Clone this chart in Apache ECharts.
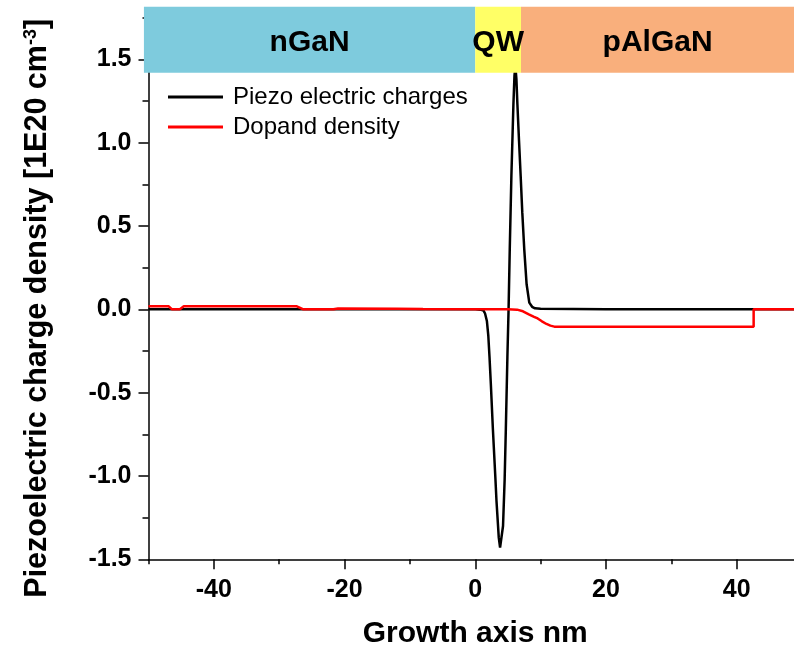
<!DOCTYPE html>
<html><head><meta charset="utf-8">
<script src="https://cdn.jsdelivr.net/npm/echarts@6/dist/echarts.min.js"></script>
<style>html,body{margin:0;padding:0;background:#fff}#c{width:794px;height:648px}</style>
</head><body><div id="c"></div>
<script>
// Piezo electric charges (black)
const piezoX = [-50, -20, -5, 0, 0.8, 1.27, 1.5, 1.78, 2.0, 2.18, 2.4, 2.7, 3.09, 3.25, 3.6, 3.8, 3.93, 4.08, 4.25, 4.5, 4.68, 4.92, 5.1, 5.28, 5.53, 5.84, 6.0, 6.14, 6.3, 6.45, 6.7, 6.95, 7.2, 7.5, 7.86, 8.27, 8.7, 9.14, 10, 20, 50];
const piezoY = [0, 0, 0, 0, -0.002, -0.008, -0.025, -0.07, -0.16, -0.285, -0.46, -0.72, -1.02, -1.15, -1.37, -1.43, -1.44, -1.42, -1.3, -1.02, -0.72, -0.285, 0, 0.36, 0.8, 1.23, 1.40, 1.46, 1.38, 1.23, 1.01, 0.8, 0.58, 0.36, 0.15, 0.04, 0.015, 0.006, 0.003, 0.001, 0];
// Dopand density (red)
const dopX = [-50, -46.9, -46.4, -45.2, -44.6, -27.3, -26.3, -21.7, -21.0, -12, -8, 0, 5, 6.4, 7.3, 8.2, 9.0, 9.55, 10.2, 10.9, 11.5, 12.1, 42.6, 42.6, 50];
const dopY = [0.018, 0.018, 0.0, 0.0, 0.018, 0.018, 0.0, 0.0, 0.005, 0.004, 0.002, 0.001, 0.001, -0.002, -0.012, -0.03, -0.045, -0.055, -0.072, -0.088, -0.098, -0.104, -0.104, 0, 0];

const xMajorTicks = [-40, -20, 0, 20, 40];
const xMinorTicks = [-50, -30, -10, 10, 30, 50];
const yMajorTicks = [-1.5, -1.0, -0.5, 0, 0.5, 1.0, 1.5];
const yMinorTicks = [-1.25, -0.75, -0.25, 0.25, 0.75, 1.25, 1.75];

const layerNames = ['nGaN', 'QW', 'pAlGaN'];
const layerStart = [-50.7, 0, 7];
const layerEnd = [0, 7, 48.8];
const layerColors = ['#7ECBDD', '#FFFF66', '#F9AF7C'];
const bandTop = 1.815, bandBottom = 1.42;

const FONT = '"Liberation Sans", Arial, sans-serif';
const axisLineStyle = { color: '#000', width: 1.5 };

const chart = echarts.init(document.getElementById('c'), null, { renderer: 'canvas' });
chart.setOption({
  animation: false,
  backgroundColor: '#fff',
  grid: { left: 148.5, right: -8, top: 9.3, bottom: 88.7, outerBoundsMode: 'none' },
  legend: {
    orient: 'vertical', left: 163, top: 80, itemWidth: 55, itemHeight: 3, itemGap: 6, icon: 'rect',
    textStyle: { fontSize: 24, fontFamily: FONT, color: '#000', lineHeight: 24, padding: [0, 0, 0, 5] },
    data: ['Piezo electric charges', 'Dopand density']
  },
  xAxis: [
    {
      type: 'value', min: -50, max: 50, position: 'bottom',
      axisLine: { show: true, onZero: false, lineStyle: axisLineStyle },
      axisTick: { show: true, customValues: xMajorTicks, length: 10, lineStyle: axisLineStyle },
      axisLabel: { customValues: xMajorTicks, fontSize: 25, fontWeight: 'bold', fontFamily: FONT, color: '#000', margin: 18 },
      splitLine: { show: false },
      name: 'Growth axis nm', nameLocation: 'middle', nameGap: 59,
      nameTextStyle: { fontSize: 30, fontWeight: 'bold', fontFamily: FONT, color: '#000' }
    },
    {
      type: 'value', min: -50, max: 50, position: 'bottom',
      axisLine: { show: false, onZero: false },
      axisTick: { show: true, customValues: xMinorTicks, length: 5, lineStyle: axisLineStyle },
      axisLabel: { show: false }, splitLine: { show: false }
    }
  ],
  yAxis: [
    {
      type: 'value', min: -1.5, max: 1.8, position: 'left',
      axisLine: { show: true, onZero: false, lineStyle: axisLineStyle },
      axisTick: { show: true, customValues: yMajorTicks, length: 10, lineStyle: axisLineStyle },
      axisLabel: { customValues: yMajorTicks, formatter: v => v.toFixed(1), fontSize: 25, fontWeight: 'bold', fontFamily: FONT, color: '#000', margin: 17 },
      splitLine: { show: false },
      name: 'Piezoelectric charge density [1E20 cm{sup|-3}]', nameLocation: 'middle', nameGap: 95, nameRotate: 90,
      nameTextStyle: {
        fontSize: 30.5, fontWeight: 'bold', fontFamily: FONT, color: '#000', padding: [0, 48, 0, 0],
        rich: { sup: { fontSize: 18, fontWeight: 'bold', fontFamily: FONT, color: '#000', verticalAlign: 'top' } }
      }
    },
    {
      type: 'value', min: -1.5, max: 1.8, position: 'left',
      axisLine: { show: false, onZero: false },
      axisTick: { show: true, customValues: yMinorTicks, length: 6, lineStyle: axisLineStyle },
      axisLabel: { show: false }, splitLine: { show: false }
    }
  ],
  series: [
    {
      name: 'Piezo electric charges', type: 'line', color: '#000', symbol: 'none', z: 2,
      lineStyle: { color: '#000', width: 2.5 },
      data: piezoX.map((x, i) => [x, piezoY[i]])
    },
    {
      name: 'Dopand density', type: 'line', color: '#FF0000', symbol: 'none', z: 3,
      lineStyle: { color: '#FF0000', width: 2.5 },
      data: dopX.map((x, i) => [x, dopY[i]])
    },
    {
      name: 'layers', type: 'custom', z: 10, clip: false, silent: true,
      data: layerStart.map((s, i) => [s, layerEnd[i]]),
      encode: { x: [0, 1], y: [] },
      renderItem: (params, api) => {
        const i = params.dataIndex;
        const p0 = api.coord([api.value(0), bandTop]);
        const p1 = api.coord([api.value(1), bandBottom]);
        return {
          type: 'group', children: [
            { type: 'rect', shape: { x: p0[0], y: p0[1], width: p1[0] - p0[0], height: p1[1] - p0[1] }, style: { fill: layerColors[i] } },
            { type: 'text', x: (p0[0] + p1[0]) / 2, y: (p0[1] + p1[1]) / 2 + 3, z2: 10,
              style: { text: layerNames[i], fill: '#000', font: 'bold 30px ' + FONT, align: 'center', verticalAlign: 'middle' } }
          ]
        };
      }
    }
  ]
});
</script></body></html>
